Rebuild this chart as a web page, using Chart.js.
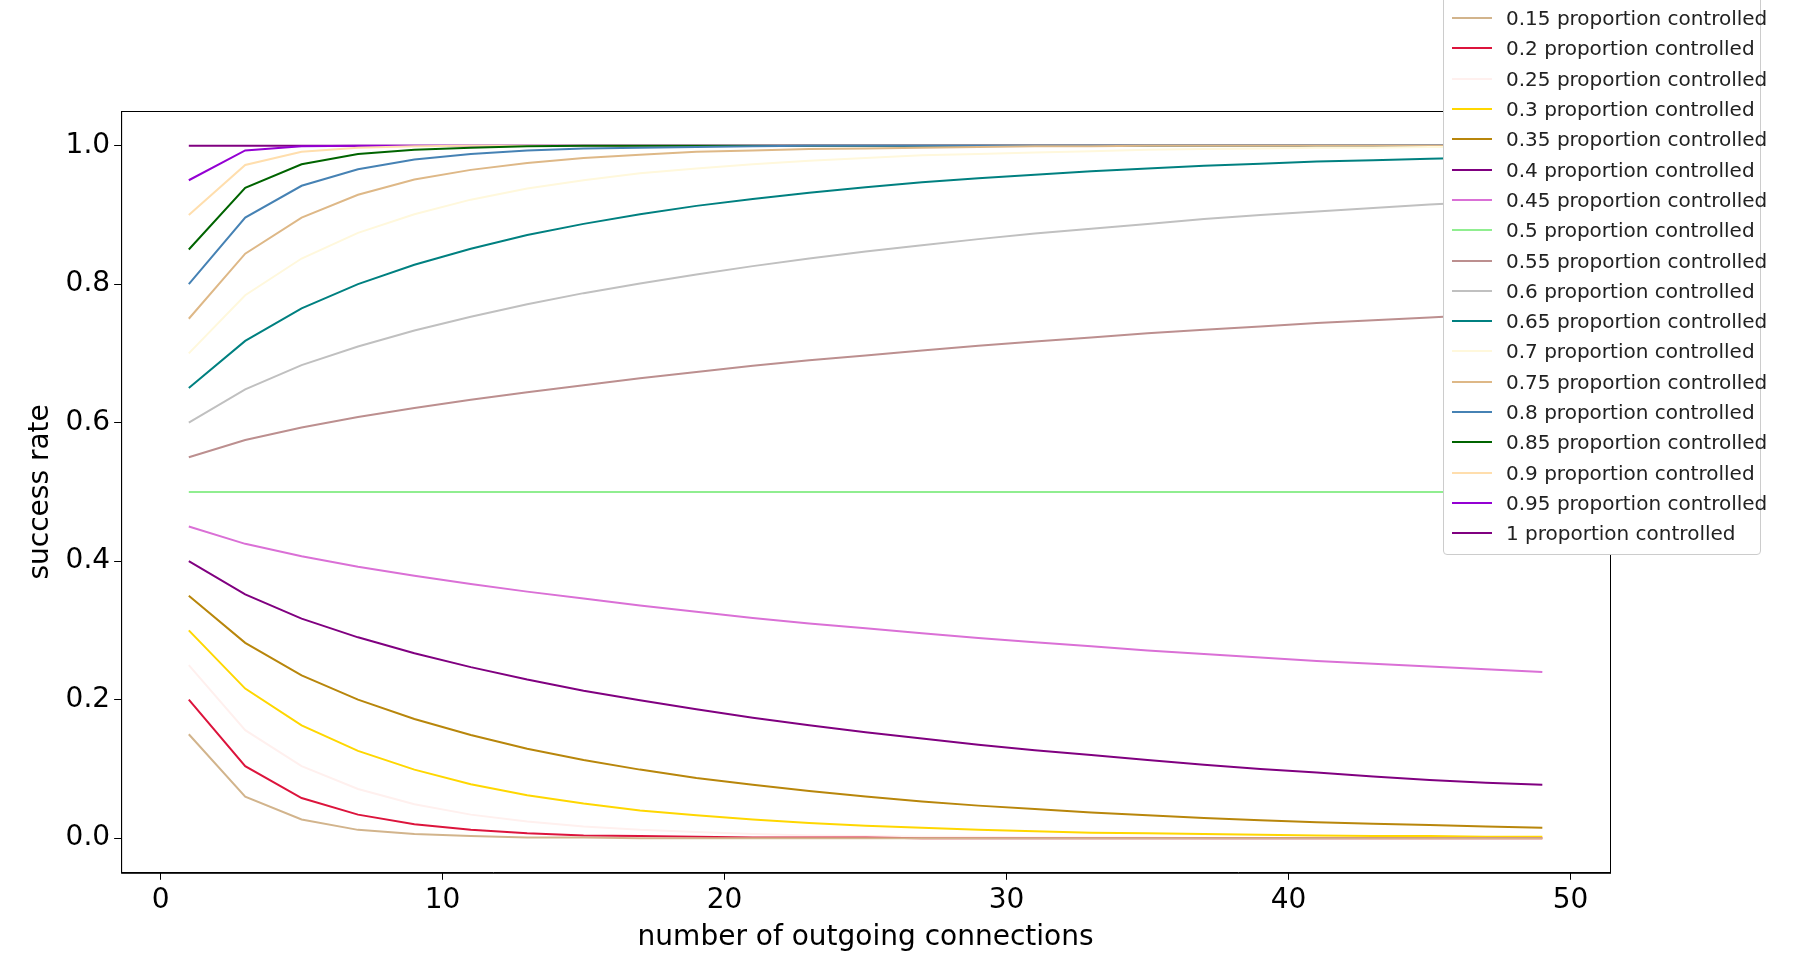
<!DOCTYPE html>
<html><head><meta charset="utf-8">
<script src="https://cdn.jsdelivr.net/npm/chart.js@4/dist/chart.umd.min.js"></script>
<style>
body{margin:0;background:#fff;font-family:"DejaVu Sans",sans-serif;overflow:hidden;}
#wrap{position:relative;width:1793px;height:959px;}
#legend{position:absolute;left:1443px;top:-4px;width:318px;background:#fff;border:1px solid #ccc;border-radius:4px;padding:6px 0 6px 0;font-size:20px;color:#222;white-space:nowrap;box-sizing:border-box;}
#legend div{display:flex;align-items:center;height:30.3px;}
#legend span.sw{display:inline-block;width:40px;height:2px;margin:0 14px 0 8px;flex:none;}
</style></head>
<body><div id="wrap"><canvas id="c" width="1793" height="959"></canvas><div id="legend"></div></div>
<script>
const xs = [1,3,5,7,9,11,13,15,17,19,21,23,25,27,29,31,33,35,37,39,41,43,45,47,49];
const labels = ['0.15','0.2','0.25','0.3','0.35','0.4','0.45','0.5','0.55','0.6','0.65','0.7','0.75','0.8','0.85','0.9','0.95','1'];
const colors = ['#d2b48c','#dc143c','#fff0ee','#ffd700','#b8860b','#800080','#da70d6','#90ee90','#bc8f8f','#c0c0c0','#008080','#fff8dc','#deb887','#4682b4','#006400','#ffdead','#9400d3','#800080'];
const ones = n => Array(n).fill(1);
const s015 = [0.15,0.06,0.027,0.012,0.006,0.003,0.001,0.001,0,0,0,0,0,0,0,0,0,0,0,0,0,0,0,0,0];
const s020 = [0.2,0.104,0.058,0.034,0.02,0.012,0.007,0.004,0.003,0.002,0.001,0.001,0.001,0,0,0,0,0,0,0,0,0,0,0,0];
const s025 = [0.25,0.156,0.104,0.071,0.049,0.034,0.024,0.017,0.012,0.009,0.006,0.004,0.003,0.002,0.002,0.001,0.001,0.001,0,0,0,0,0,0,0];
const s030 = [0.3,0.216,0.163,0.126,0.099,0.078,0.062,0.05,0.04,0.033,0.027,0.022,0.018,0.015,0.012,0.01,0.008,0.007,0.006,0.005,0.004,0.003,0.003,0.002,0.002];
const s035 = [0.35,0.282,0.235,0.2,0.172,0.149,0.129,0.113,0.099,0.087,0.077,0.068,0.06,0.053,0.047,0.042,0.037,0.033,0.029,0.026,0.023,0.021,0.019,0.017,0.015];
const s040 = [0.4,0.352,0.317,0.29,0.267,0.247,0.229,0.213,0.199,0.186,0.174,0.163,0.153,0.144,0.135,0.127,0.12,0.113,0.106,0.1,0.095,0.089,0.084,0.08,0.077];
const s045 = [0.45,0.425,0.407,0.392,0.379,0.367,0.356,0.346,0.336,0.327,0.318,0.31,0.303,0.296,0.289,0.283,0.277,0.271,0.266,0.261,0.256,0.252,0.248,0.244,0.24];
const s050 = Array(25).fill(0.5);
const s055 = [0.55,0.575,0.593,0.608,0.621,0.633,0.644,0.654,0.664,0.673,0.682,0.69,0.697,0.704,0.711,0.717,0.723,0.729,0.734,0.739,0.744,0.748,0.752,0.756,0.76];
const s060 = [0.6,0.648,0.683,0.71,0.733,0.753,0.771,0.787,0.801,0.814,0.826,0.837,0.847,0.856,0.865,0.873,0.88,0.887,0.894,0.9,0.905,0.91,0.915,0.919,0.923];
const s065 = [0.65,0.718,0.765,0.8,0.828,0.851,0.871,0.887,0.901,0.913,0.923,0.932,0.94,0.947,0.953,0.958,0.963,0.967,0.971,0.974,0.977,0.979,0.981,0.983,0.985];
const s070 = [0.7,0.784,0.837,0.874,0.901,0.922,0.938,0.95,0.96,0.967,0.973,0.978,0.982,0.986,0.988,0.99,0.992,0.994,0.995,0.996,0.997,0.997,0.998,0.998,0.999];
const s075 = [0.75,0.844,0.896,0.929,0.951,0.965,0.975,0.982,0.987,0.991,0.993,0.995,0.996,0.997,0.998,0.999,0.999,1,1,1,1,1,1,1,1];
const s080 = [0.8,0.896,0.942,0.966,0.98,0.988,0.993,0.996,0.997,0.998,0.999,1,1,1,1,1,1,1,1,1,1,1,1,1,1];
const s085 = [0.85,0.939,0.973,0.988,0.994,0.997,0.999,1,1,1,1,1,1,1,1,1,1,1,1,1,1,1,1,1,1];
const s090 = [0.9,0.972,0.991,0.997,0.999,1,1,1,1,1,1,1,1,1,1,1,1,1,1,1,1,1,1,1,1];
const s095 = [0.95,0.993,0.999,1,1,1,1,1,1,1,1,1,1,1,1,1,1,1,1,1,1,1,1,1,1];
const s100 = ones(25);
const series = [s015,s020,s025,s030,s035,s040,s045,s050,s055,s060,s065,s070,s075,s080,s085,s090,s095,s100];

const frame = {
  id: 'frame',
  afterDraw(chart) {
    const {ctx, chartArea: a} = chart;
    ctx.save();
    ctx.strokeStyle = '#000';
    ctx.lineWidth = 1;
    ctx.strokeRect(a.left + 0.5, a.top + 0.5, a.right - a.left, a.bottom - a.top);
    ctx.restore();
  }
};

const font = {family: 'DejaVu Sans', size: 28};
new Chart(document.getElementById('c'), {
  type: 'line',
  data: {
    datasets: series.map((s, i) => ({
      label: labels[i] + ' proportion controlled',
      data: s.map((v, j) => ({x: xs[j], y: v})),
      borderColor: colors[i],
      borderWidth: 2,
      pointRadius: 0,
      tension: 0
    }))
  },
  options: {
    responsive: false,
    animation: false,
    layout: {padding: {left: 20, right: 183, top: 111, bottom: 0}},
    plugins: {legend: {display: false}, tooltip: {enabled: false}},
    scales: {
      x: {
        type: 'linear', min: -1.4, max: 51.4,
        afterBuildTicks: ax => { ax.ticks = [0,10,20,30,40,50].map(v => ({value: v})); },
        ticks: {font, color: '#000', padding: 4},
        grid: {drawOnChartArea: false, tickLength: 7, color: '#000'},
        border: {color: '#000'},
        title: {display: true, text: 'number of outgoing connections', font, color: '#000', padding: {top: 0}}
      },
      y: {
        min: -0.05, max: 1.05,
        afterBuildTicks: ax => { ax.ticks = [0,0.2,0.4,0.6,0.8,1].map(v => ({value: v})); },
        ticks: {font, color: '#000', padding: 4, callback: v => v.toFixed(1)},
        grid: {drawOnChartArea: false, tickLength: 7, color: '#000'},
        border: {color: '#000'},
        title: {display: true, text: 'success rate', font, color: '#000'}
      }
    }
  },
  plugins: [frame]
});

const lg = document.getElementById('legend');
labels.forEach((l, i) => {
  const d = document.createElement('div');
  d.innerHTML = `<span class="sw" style="background:${colors[i]}"></span>${l} proportion controlled`;
  lg.appendChild(d);
});
</script></body></html>
